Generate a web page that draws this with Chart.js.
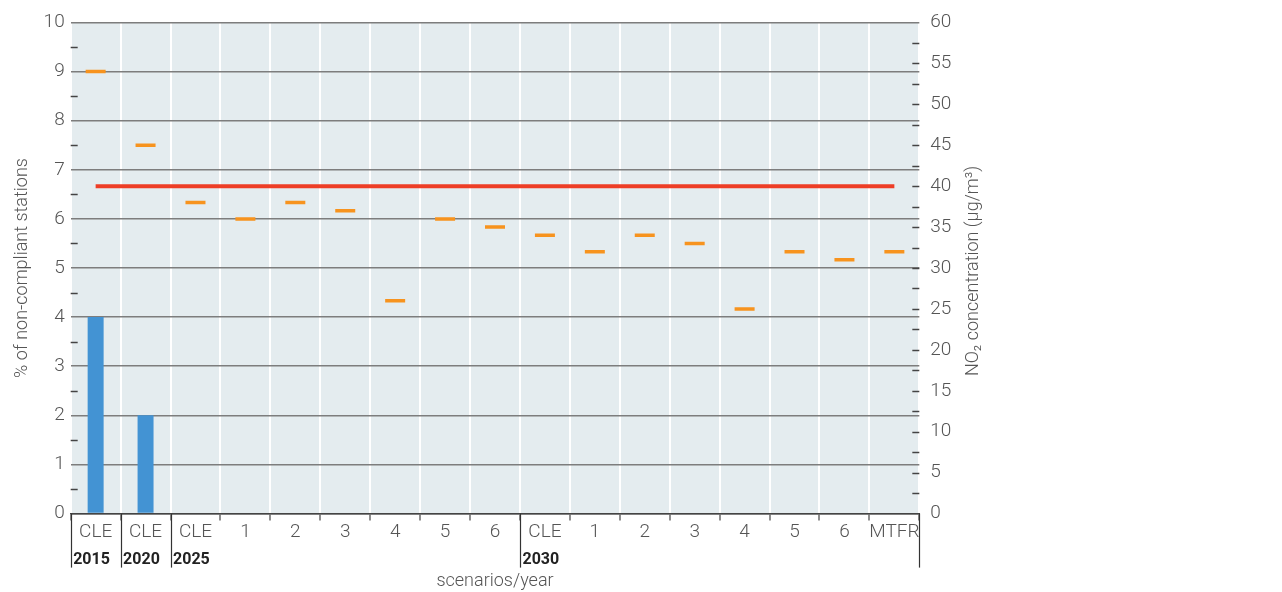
<!DOCTYPE html>
<html>
<head>
<meta charset="utf-8">
<style>
  html, body { margin: 0; padding: 0; background: #ffffff; }
  #wrap { width: 1282px; height: 592px; }
</style>
<script src="https://cdn.jsdelivr.net/npm/chart.js@4.4.1/dist/chart.umd.min.js"></script>
</head>
<body>
<div id="wrap"><canvas id="no2-chart" width="1282" height="592"></canvas></div>
<script>
// scenario labels along the x axis
const scenarios = ['CLE', 'CLE', 'CLE', '1', '2', '3', '4', '5', '6',
                   'CLE', '1', '2', '3', '4', '5', '6', 'MTFR'];
// year groups: label and index of the first scenario of the group
const groupYears = ['2015', '2020', '2025', '2030'];
const groupStart = [0, 1, 2, 9];

// % of non-compliant stations (left axis)
const nonCompliantPct = [4, 2, null, null, null, null, null, null, null,
                         null, null, null, null, null, null, null, null];
// NO2 concentration, µg/m3 (right axis)
const no2Conc = [54, 45, 38, 36, 38, 37, 26, 36, 35,
                 34, 32, 34, 33, 25, 32, 31, 32];
// annual limit value, µg/m3
const limitValue = [40, 40, 40, 40, 40, 40, 40, 40, 40,
                    40, 40, 40, 40, 40, 40, 40, 40];

const rightTitle = 'NO₂ concentration (µg/m³)';

const FONT = "Roboto, 'Open Sans', sans-serif";
const TEXT = '#555555';

const decorPlugin = {
    id: 'decor',
    beforeDraw(chart) {
        const { ctx, chartArea: a } = chart;
        ctx.save();
        ctx.fillStyle = '#e4ecef';
        ctx.fillRect(a.left, a.top, a.right - a.left, a.bottom - a.top);
        ctx.restore();
    },
    afterDatasetsDraw(chart) {
        const { ctx, chartArea: a, scales } = chart;
        const x = scales.x, y = scales.y, y1 = scales.y1;
        ctx.save();
        ctx.strokeStyle = '#444444';
        ctx.lineWidth = 1.5;
        // minor ticks on the left axis (half units)
        for (let v = 0.5; v < 10; v += 1) {
            const py = Math.round(y.getPixelForValue(v)) + 0.5;
            ctx.beginPath();
            ctx.moveTo(a.left, py);
            ctx.lineTo(a.left + 7, py);
            ctx.stroke();
        }
        // ticks on the right axis, every 2.5
        for (let v = 2.5; v < 60; v += 2.5) {
            const py = Math.round(y1.getPixelForValue(v)) + 0.5;
            ctx.beginPath();
            ctx.moveTo(a.right - 7, py);
            ctx.lineTo(a.right, py);
            ctx.stroke();
        }
        // year group separators and labels
        const w = (a.right - a.left) / scenarios.length;
        ctx.lineWidth = 1.2;
        ctx.strokeStyle = '#333333';
        const bounds = groupStart.concat([scenarios.length]);
        bounds.forEach(i => {
            const px = Math.round(x.getPixelForValue(0) - w / 2 + i * w) + 0.5;
            ctx.beginPath();
            ctx.moveTo(px, a.bottom);
            ctx.lineTo(px, a.bottom + 54);
            ctx.stroke();
        });
        ctx.fillStyle = '#222222';
        ctx.font = "bold 16px " + FONT;
        ctx.textAlign = 'left';
        ctx.textBaseline = 'middle';
        groupYears.forEach((yr, k) => {
            const px = x.getPixelForValue(0) - w / 2 + groupStart[k] * w;
            ctx.fillText(yr, px + 2.5, a.bottom + 46);
        });
        // right axis title, reading bottom to top
        ctx.fillStyle = TEXT;
        ctx.font = "300 18px " + FONT;
        ctx.textAlign = 'center';
        ctx.translate(a.right + 54, (a.top + a.bottom) / 2 + 3);
        ctx.rotate(-Math.PI / 2);
        ctx.fillText(rightTitle, 0, 0);
        ctx.restore();
    }
};

const ctx = document.getElementById('no2-chart').getContext('2d');
new Chart(ctx, {
    type: 'bar',
    data: {
        labels: scenarios,
        datasets: [
            {
                type: 'line',
                label: 'Limit value',
                data: limitValue,
                yAxisID: 'y1',
                borderColor: '#ee3e26',
                borderWidth: 4,
                pointRadius: 0,
                fill: false,
                order: 1
            },
            {
                type: 'line',
                label: 'NO2 concentration',
                data: no2Conc,
                yAxisID: 'y1',
                showLine: false,
                pointStyle: 'line',
                pointRadius: 10,
                pointBorderWidth: 3.5,
                pointBorderColor: '#f7931e',
                pointBackgroundColor: '#f7931e',
                order: 2
            },
            {
                type: 'bar',
                label: '% of non-compliant stations',
                data: nonCompliantPct,
                yAxisID: 'y',
                backgroundColor: '#4393d3',
                barPercentage: 0.32,
                categoryPercentage: 1,
                order: 3
            }
        ]
    },
    options: {
        responsive: false,
        animation: false,
        layout: { padding: { left: 11.5, right: 288, top: 9, bottom: 0 } },
        plugins: {
            legend: { display: false },
            tooltip: { enabled: false }
        },
        scales: {
            x: {
                offset: true,
                grid: {
                    offset: true,
                    color: '#ffffff',
                    lineWidth: 2,
                    drawTicks: true,
                    tickLength: 7,
                    tickColor: '#444444',
                    tickWidth: 1.2
                },
                border: { color: '#444444', width: 1.5 },
                ticks: {
                    color: TEXT,
                    font: { family: FONT, size: 19, weight: 300 },
                    padding: 0,
                    maxRotation: 0,
                    autoSkip: false
                },
                title: {
                    display: true,
                    text: 'scenarios/year',
                    color: TEXT,
                    font: { family: FONT, size: 18, weight: 300 },
                    padding: { top: 27, bottom: 0 }
                }
            },
            y: {
                position: 'left',
                min: 0,
                max: 10,
                grid: {
                    color: '#7d7d7d',
                    lineWidth: 1.5,
                    drawTicks: false
                },
                border: { display: false },
                ticks: {
                    stepSize: 1,
                    color: TEXT,
                    font: { family: FONT, size: 19, weight: 300 },
                    padding: 6
                },
                title: {
                    display: true,
                    text: '% of non-compliant stations',
                    color: TEXT,
                    font: { family: FONT, size: 18, weight: 300 },
                    padding: { top: 0, bottom: 4.5 }
                }
            },
            y1: {
                position: 'right',
                min: 0,
                max: 60,
                grid: { drawOnChartArea: false, drawTicks: false },
                border: { display: false },
                ticks: {
                    stepSize: 5,
                    color: TEXT,
                    font: { family: FONT, size: 19, weight: 300 },
                    padding: 11
                },
                title: {
                    // space reserved here, text drawn by the plugin
                    display: true,
                    text: rightTitle,
                    color: 'rgba(0,0,0,0)',
                    font: { family: FONT, size: 18, weight: 300 },
                    padding: { top: 10, bottom: 0 }
                }
            }
        }
    },
    plugins: [decorPlugin]
});
</script>
</body>
</html>
